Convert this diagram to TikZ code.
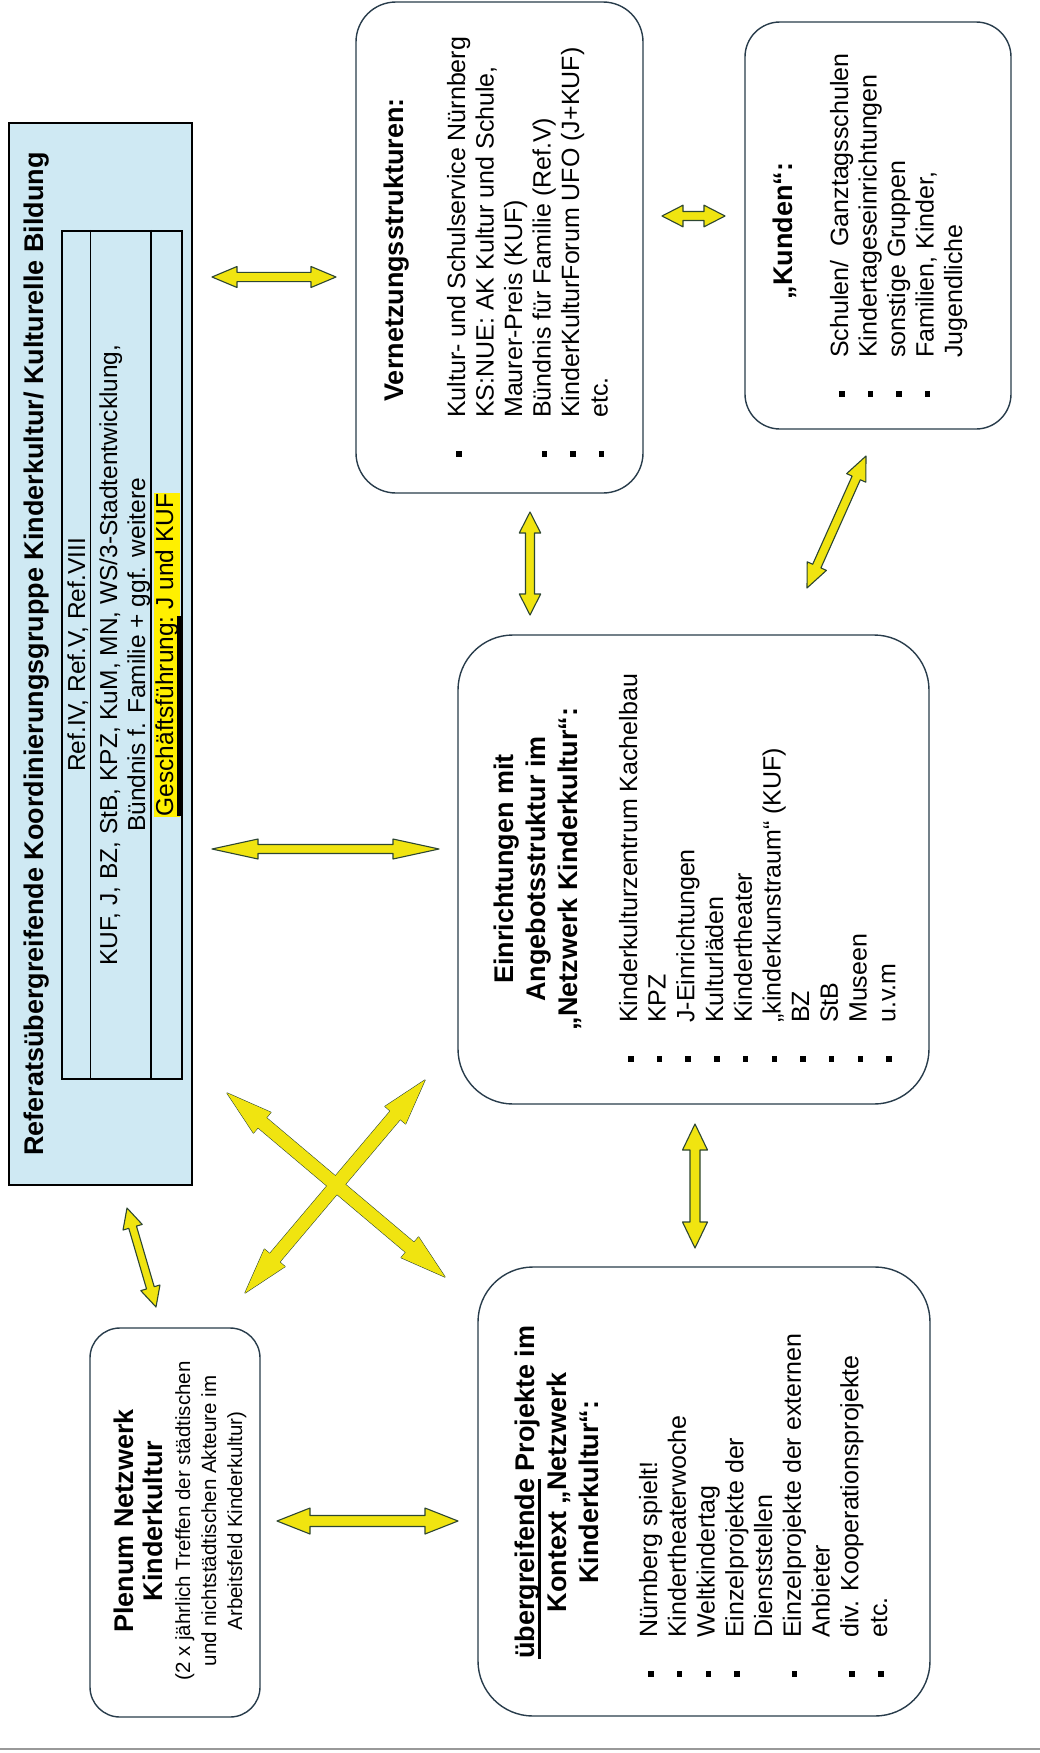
\documentclass[tikz,border=0pt]{standalone}
\usepackage{fontspec}
\setmainfont{Liberation Sans}
\usetikzlibrary{calc}
\definecolor{boxline}{RGB}{40,60,75}
\definecolor{kbg}{RGB}{207,233,243}
\definecolor{yfill}{RGB}{240,228,16}
\definecolor{yline}{RGB}{45,70,50}
\definecolor{hlyel}{RGB}{255,240,0}
\newcommand\ulthick[3]{\leavevmode\setbox0\hbox{#1}\rlap{\rule[-#2]{\wd0}{#3}}\box0\relax}
\newcommand\bul{\makebox[39pt][l]{\rule[3.5pt]{5.5pt}{5.5pt}}}
\newcommand\nob{\makebox[39pt][l]{}}
\newcommand\yblockarrow[6][yarrow]{%
  \coordinate (ybaA) at ($(#2)!#4!(#3)$);
  \coordinate (ybaB) at ($(#3)!#4!(#2)$);
  \path[#1] (#2) -- ($(ybaA)!#5!90:(#3)$) -- ($(ybaA)!#6!90:(#3)$)
    -- ($(ybaB)!#6!-90:(#2)$) -- ($(ybaB)!#5!-90:(#2)$) -- (#3)
    -- ($(ybaB)!#5!90:(#2)$) -- ($(ybaB)!#6!90:(#2)$)
    -- ($(ybaA)!#6!-90:(#3)$) -- ($(ybaA)!#5!-90:(#3)$) -- cycle;
}
\tikzset{
  yarrow/.style={fill=yfill, draw=yline, line width=1.1pt, line join=round},
  yonly/.style={fill=yfill},
  rbox/.style={draw=boxline, line width=1.4pt, fill=white, rectangle, inner sep=0pt},
  rottext/.style={rotate=90, inner sep=0pt},
  hd/.style={font=\bfseries\fontsize{27}{32}\selectfont},
  it/.style={font=\fontsize{25}{28.5}\selectfont},
  tt/.style={font=\fontsize{24.5}{28}\selectfont},
}
\begin{document}
\begin{tikzpicture}[x=1pt,y=-1pt]
\useasboundingbox (0,0) rectangle (1040,1753);
\fill[white] (0,0) rectangle (1040,1753);

% Koordinierungsgruppe
\node[draw=black, line width=1.5pt, fill=kbg, rectangle, inner sep=0pt,
      minimum width=183pt, minimum height=1062pt] (koord) at (100.5,654) {};
\node[rottext, anchor=base, hd] (ktitle) at (43,654)
  {Referatsübergreifende Koordinierungsgruppe Kinderkultur/ Kulturelle Bildung};
\node[draw=black, line width=2.5pt, rectangle, inner sep=0pt,
      minimum width=120pt, minimum height=848pt] (tab) at (122,655) {};
\draw[line width=1pt] ($(tab.north west)+(30,0)$) -- ($(tab.south west)+(30,0)$);
\draw[line width=2.5pt] ($(tab.north west)+(90,0)$) -- ($(tab.south west)+(90,0)$);
\node[rottext, anchor=base, tt] (r1) at (85,655) {Ref.IV, Ref.V, Ref.VIII};
\node[rottext, anchor=base, tt] (r2) at (117,655)
  {\parbox[t]{700pt}{\centering KUF, J, BZ, StB, KPZ, KuM, MN, WS/3-Stadtentwicklung,\\
   Bündnis f. Familie + ggf. weitere}};
\node[rottext, anchor=base, tt, fill=hlyel, inner xsep=1pt, inner ysep=1pt,
      text height=18pt, text depth=6pt] (r3) at (173,655)
  {\ulthick{Geschäftsführung:}{10pt}{6pt} J und KUF};

% Vernetzungsstrukturen
\node[rbox, rounded corners=40pt, minimum width=287pt, minimum height=491pt] (vern) at (499.5,247.5) {};
\node[rottext, anchor=base, hd] (vtitle) at (403,250) {Vernetzungsstrukturen:};
\node[rottext, anchor=base west, it] (vitems) at (465,457)
  {\parbox[t]{420pt}{\raggedright
   \bul Kultur- und Schulservice Nürnberg\\
   \nob KS:NUE: AK Kultur und Schule,\\
   \nob Maurer-Preis (KUF)\\
   \bul Bündnis für Familie (Ref.V)\\
   \bul KinderKulturForum UFO (J+KUF)\\
   \bul etc.}};

% Kunden
\node[rbox, rounded corners=35pt, minimum width=266pt, minimum height=407pt] (kund) at (878,225.5) {};
\node[rottext, anchor=base, hd] (kutitle) at (792,231) {„Kunden“:};
\node[rottext, anchor=base west, it] (kuitems) at (848,397)
  {\parbox[t]{380pt}{\raggedright
   \bul Schulen/\ \ Ganztagsschulen\\
   \bul Kindertageseinrichtungen\\
   \bul sonstige Gruppen\\
   \bul Familien, Kinder,\\
   \nob Jugendliche}};

% Einrichtungen
\node[rbox, rounded corners=55pt, minimum width=471pt, minimum height=469pt] (einr) at (693.5,869.5) {};
\node[rottext, anchor=base, hd] (etitle) at (513,869)
  {\parbox[t]{440pt}{\centering Einrichtungen mit\\ Angebotsstruktur im\\ „Netzwerk Kinderkultur“:}};
\node[rottext, anchor=base west, font=\fontsize{25}{28.7}\selectfont] (eitems) at (637,1062)
  {\parbox[t]{420pt}{\raggedright
   \bul Kinderkulturzentrum Kachelbau\\
   \bul KPZ\\
   \bul J-Einrichtungen\\
   \bul Kulturläden\\
   \bul Kindertheater\\
   \bul „kinderkunstraum“ (KUF)\\
   \bul BZ\\
   \bul StB\\
   \bul Museen\\
   \bul u.v.m}};

% Projekte
\node[rbox, rounded corners=55pt, minimum width=452pt, minimum height=449pt] (proj) at (704,1491.5) {};
\node[rottext, anchor=base, hd] (ptitle) at (534,1492)
  {\parbox[t]{440pt}{\centering \ulthick{übergreifende}{7pt}{3pt} Projekte im\\ Kontext „Netzwerk\\ Kinderkultur“:}};
\node[rottext, anchor=base west, font=\fontsize{25}{28.75}\selectfont] (pitems) at (657,1677)
  {\parbox[t]{420pt}{\raggedright
   \bul Nürnberg spielt!\\
   \bul Kindertheaterwoche\\
   \bul Weltkindertag\\
   \bul Einzelprojekte der\\
   \nob Dienststellen\\
   \bul Einzelprojekte der externen\\
   \nob Anbieter\\
   \bul div. Kooperationsprojekte\\
   \bul etc.}};

% Plenum
\node[rbox, rounded corners=30pt, minimum width=170pt, minimum height=389pt] (plen) at (175,1522.5) {};
\node[rottext, anchor=base, font=\bfseries\fontsize{27}{29}\selectfont] (pltitle) at (133,1521)
  {\parbox[t]{380pt}{\centering Plenum Netzwerk\\ Kinderkultur}};
\node[rottext, anchor=base, font=\fontsize{20.5}{26}\selectfont] (plsub) at (190,1521)
  {\parbox[t]{380pt}{\centering (2 x jährlich Treffen der städtischen\\ und nichtstädtischen Akteure im\\ Arbeitsfeld Kinderkultur)}};

% arrow end points
\coordinate (a1s) at (212,277);  \coordinate (a1e) at (336,277);
\coordinate (a2s) at (212,849);  \coordinate (a2e) at (439,849);
\coordinate (a3s) at (662,216);  \coordinate (a3e) at (725,216);
\coordinate (a4s) at (530,512);  \coordinate (a4e) at (530,615);
\coordinate (a5s) at (866,456);  \coordinate (a5e) at (807,588);
\coordinate (a6s) at (695,1124); \coordinate (a6e) at (695,1248);
\coordinate (a7s) at (127,1208); \coordinate (a7e) at (156,1307);
\coordinate (a8s) at (277,1521); \coordinate (a8e) at (458,1521);
\coordinate (x1s) at (227,1093); \coordinate (x1e) at (445,1277);
\coordinate (x2s) at (425,1080); \coordinate (x2e) at (245,1293);

\yblockarrow{a1s}{a1e}{25pt}{10.5pt}{4.6pt}
\yblockarrow{a2s}{a2e}{46pt}{10pt}{4.5pt}
\yblockarrow{a3s}{a3e}{21pt}{10.8pt}{4.5pt}
\yblockarrow{a4s}{a4e}{21pt}{10.7pt}{4.5pt}
\yblockarrow{a5s}{a5e}{24pt}{10.5pt}{4.5pt}
\yblockarrow{a6s}{a6e}{26pt}{12.5pt}{5pt}
\yblockarrow{a7s}{a7e}{20pt}{10pt}{4pt}
\yblockarrow{a8s}{a8e}{33pt}{13pt}{5.5pt}
\yblockarrow{x1s}{x1e}{46pt}{13.5pt}{6.5pt}
\yblockarrow{x2s}{x2e}{46pt}{13.5pt}{6.5pt}
\yblockarrow[yonly]{x1s}{x1e}{46pt}{13.5pt}{6.5pt}
\yblockarrow[yonly]{x2s}{x2e}{46pt}{13.5pt}{6.5pt}

% bottom rule
\coordinate (bl) at (0,1749); \coordinate (br) at (1040,1749);
\draw[black!40, line width=2.5pt] (bl) -- (br);
\end{tikzpicture}
\end{document}
